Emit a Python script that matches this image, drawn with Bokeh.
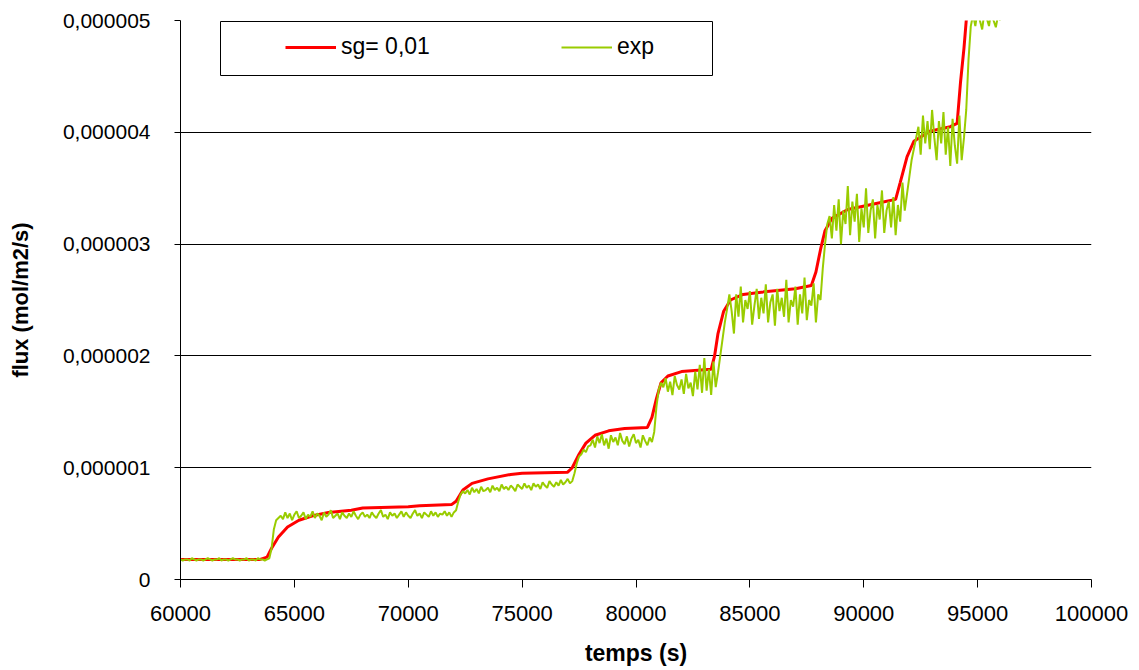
from bokeh.plotting import figure
from bokeh.models import (FixedTicker, CustomJSTickFormatter, Legend, LegendItem,
                          BoxAnnotation)
from bokeh.embed import file_html
from bokeh.resources import INLINE

# ---------------- data ----------------
x_ticks = [60000, 65000, 70000, 75000, 80000, 85000, 90000, 95000, 100000]
y_ticks = [0, 1e-6, 2e-6, 3e-6, 4e-6, 5e-6]

# model curve "sg= 0,01" (flux in 1e-6 mol/m2/s)
red_time = [60000, 63500, 63800, 64000, 64300, 64700, 65200, 65800, 66500, 67500,
            68000, 70000, 70500, 71900, 72100, 72400, 72800, 73500, 74500, 75000,
            77000, 77200, 77500, 77800, 78200, 78800, 79500, 80500, 80700, 80900,
            81100, 81400, 82000, 83300, 83450, 83600, 83850, 84150, 84700, 85500,
            87000, 87700, 87900, 88100, 88300, 88600, 89300, 90700, 91400, 91600,
            91900, 92200, 92900, 93800, 94100, 94250, 94400, 94500, 94700]
red_flux_u = [0.18, 0.18, 0.20, 0.28, 0.38, 0.47, 0.53, 0.57, 0.60, 0.62,
              0.64, 0.65, 0.66, 0.67, 0.70, 0.80, 0.86, 0.90, 0.94, 0.95,
              0.96, 1.00, 1.12, 1.22, 1.29, 1.33, 1.35, 1.36, 1.45, 1.62,
              1.76, 1.82, 1.86, 1.88, 2.00, 2.20, 2.40, 2.50, 2.55, 2.57,
              2.60, 2.63, 2.75, 2.95, 3.12, 3.23, 3.31, 3.37, 3.40, 3.55,
              3.78, 3.92, 4.01, 4.05, 4.08, 4.45, 4.75, 5.00, 5.40]

# experimental data, one reading every 100 s from 60000 s to 96000 s
exp_start, exp_stop, exp_step = 60000, 96000, 100
exp_flux_u = [
    0.18, 0.17, 0.18, 0.18, 0.17, 0.19, 0.18, 0.17, 0.18, 0.18,
    0.17, 0.18, 0.19, 0.18, 0.17, 0.18, 0.18, 0.19, 0.17, 0.18,
    0.18, 0.17, 0.18, 0.19, 0.18, 0.18, 0.17, 0.18, 0.18, 0.19,
    0.17, 0.18, 0.18, 0.17, 0.19, 0.18, 0.18, 0.17, 0.18,
    0.19, 0.28, 0.45, 0.53, 0.55,
    0.57, 0.54, 0.60, 0.55, 0.59, 0.53, 0.58, 0.61, 0.55, 0.57,
    0.60, 0.54, 0.58, 0.56, 0.61, 0.55, 0.59, 0.57, 0.53, 0.60,
    0.56, 0.58, 0.62, 0.55, 0.57, 0.59, 0.54, 0.60, 0.57, 0.55,
    0.59, 0.56, 0.61, 0.57, 0.54, 0.58, 0.60, 0.56, 0.58, 0.55,
    0.60, 0.57, 0.55, 0.59, 0.62, 0.56, 0.58, 0.54, 0.60, 0.57,
    0.59, 0.55, 0.58, 0.61, 0.56, 0.60, 0.57, 0.55, 0.59, 0.62,
    0.57, 0.59, 0.55, 0.60, 0.58, 0.56, 0.61, 0.57, 0.60, 0.56,
    0.59, 0.58, 0.61, 0.57, 0.60, 0.56, 0.60,
    0.62, 0.70, 0.76, 0.79, 0.77,
    0.80, 0.76, 0.82, 0.78, 0.81, 0.77, 0.83, 0.79, 0.80, 0.82,
    0.78, 0.84, 0.80, 0.82, 0.79, 0.85, 0.81, 0.83, 0.80, 0.84,
    0.82, 0.79, 0.85, 0.83, 0.81, 0.86, 0.82, 0.84, 0.80, 0.86,
    0.83, 0.85, 0.81, 0.87, 0.84, 0.82, 0.88, 0.85, 0.83, 0.87,
    0.84, 0.89, 0.85, 0.87, 0.90, 0.86, 0.88,
    0.95, 1.04, 1.10, 1.12, 1.16, 1.14, 1.19,
    1.20, 1.25, 1.18, 1.28, 1.22, 1.30, 1.20, 1.26, 1.17, 1.29,
    1.23, 1.27, 1.20, 1.31, 1.24, 1.21, 1.28, 1.19, 1.26, 1.30,
    1.22, 1.25, 1.18, 1.29, 1.24, 1.20, 1.27, 1.23,
    1.32, 1.55, 1.70, 1.76,
    1.72, 1.80, 1.68, 1.77, 1.65, 1.82, 1.74, 1.70, 1.79, 1.66,
    1.84, 1.71, 1.76, 1.64, 1.86, 1.70, 1.92, 1.67, 1.98, 1.69,
    1.88, 1.65, 1.95, 1.72, 1.85,
    2.00, 2.15, 2.30, 2.42, 2.55, 2.40,
    2.20, 2.55, 2.35, 2.62, 2.30, 2.50, 2.42, 2.58, 2.28, 2.45,
    2.60, 2.33, 2.52, 2.38, 2.64, 2.30, 2.48, 2.55, 2.27, 2.60,
    2.40, 2.52, 2.35, 2.68, 2.30, 2.50, 2.44, 2.62, 2.28, 2.55,
    2.38, 2.70, 2.32, 2.50, 2.45, 2.65, 2.30, 2.55,
    2.50, 2.78, 3.00, 3.18, 3.25,
    3.05, 3.35, 3.12, 3.40, 3.00, 3.30, 3.18, 3.52, 3.08, 3.38,
    3.20, 3.45, 3.02, 3.32, 3.15, 3.50, 3.10, 3.30, 3.40, 3.05,
    3.35, 3.22, 3.48, 3.10, 3.30, 3.38, 3.15, 3.42, 3.08, 3.35,
    3.20, 3.55, 3.30, 3.45,
    3.60, 3.75, 3.85,
    3.95, 4.05, 3.80, 4.15, 3.90, 4.10, 3.85, 4.20, 3.95, 3.75,
    4.10, 3.90, 4.18, 3.80, 4.05, 3.70, 4.12, 3.88, 3.72, 4.15,
    3.75, 3.95,
    4.20, 4.65, 4.95,
    5.05, 4.95, 5.10, 5.00, 4.92, 5.08, 5.02, 4.95, 5.10, 5.00,
    4.94, 5.05, 5.00,
]
exp_time = list(range(exp_start, exp_stop + 1, exp_step))
assert len(exp_time) == len(exp_flux_u)

red_flux = [v * 1e-6 for v in red_flux_u]
exp_flux = [v * 1e-6 for v in exp_flux_u]

FONT = "Liberation Sans"

# ---------------- figure ----------------
p = figure(frame_width=911, frame_height=559,
           x_range=(60000, 100000), y_range=(0, 5e-6),
           output_backend="svg", toolbar_location=None,
           min_border_left=180, min_border_top=20,
           min_border_right=44, min_border_bottom=86)
p.outline_line_color = None
p.background_fill_color = "white"
p.border_fill_color = "white"

r_red = p.line(red_time, red_flux, line_color="#FF0000", line_width=3)
r_exp = p.line(exp_time, exp_flux, line_color="#99CC00", line_width=2)

# axes
p.xaxis.ticker = FixedTicker(ticks=x_ticks, minor_ticks=[])
p.xaxis.formatter = CustomJSTickFormatter(code='return tick.toFixed(0);')
p.yaxis.ticker = FixedTicker(ticks=y_ticks, minor_ticks=[])
p.yaxis.formatter = CustomJSTickFormatter(
    code='return tick == 0 ? "0" : tick.toFixed(6).replace(".", ",");')

for ax in (p.xaxis, p.yaxis):
    ax.axis_line_color = "black"
    ax.axis_line_width = 1
    ax.major_tick_line_color = "black"
    ax.major_tick_in = 0
    ax.minor_tick_in = 0
    ax.minor_tick_out = 0
    ax.major_label_text_font = FONT
    ax.major_label_text_color = "black"
    ax.axis_label_text_font = FONT
    ax.axis_label_text_font_style = "bold"
    ax.axis_label_text_color = "black"

p.xaxis.major_label_text_font_size = "22px"
p.xaxis.major_tick_out = 8
p.xaxis.major_label_standoff = 18
p.xaxis.axis_label = "temps (s)"
p.xaxis.axis_label_text_font_size = "23px"
p.xaxis.axis_label_standoff = 16

p.yaxis.major_label_text_font_size = "21px"
p.yaxis.major_tick_out = 6
p.yaxis.major_label_standoff = 24
p.yaxis.axis_label = "flux (mol/m2/s)"
p.yaxis.axis_label_text_font_size = "22px"
p.yaxis.axis_label_standoff = 27

p.xgrid.visible = False
p.ygrid.ticker = FixedTicker(ticks=y_ticks)
p.ygrid.grid_line_color = "black"
p.ygrid.grid_line_width = 1

# legend frame
box = BoxAnnotation(left=40, right=532, top=558, bottom=504,
                    left_units="screen", right_units="screen",
                    top_units="screen", bottom_units="screen",
                    fill_color="white", fill_alpha=1.0,
                    line_color="black", line_alpha=1.0, line_width=1)
p.add_layout(box)

legend = Legend(items=[LegendItem(label="sg= 0,01", renderers=[r_red]),
                       LegendItem(label="exp", renderers=[r_exp])],
                orientation="horizontal", location=(105, 519),
                padding=0, margin=0, spacing=20,
                glyph_width=51, glyph_height=20, label_width=200,
                label_standoff=5, border_line_color=None,
                background_fill_alpha=0,
                label_text_font=FONT, label_text_font_size="23px",
                label_text_color="black")
p.add_layout(legend)

open("out.html", "w").write(file_html(p, INLINE))
